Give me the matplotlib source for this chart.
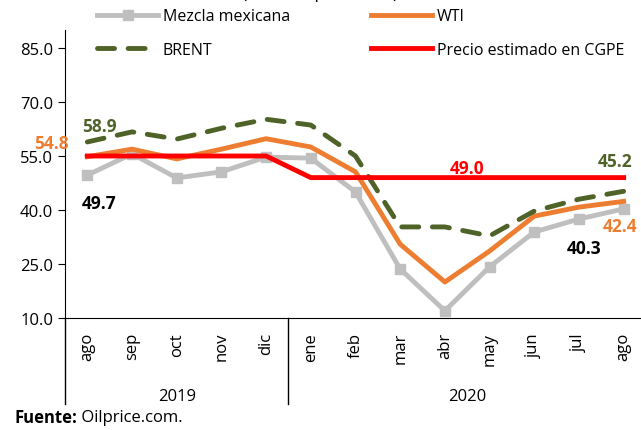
import matplotlib.pyplot as plt
import numpy as np

# monthly oil prices, dollars per barrel
months = ["ago", "sep", "oct", "nov", "dic", "ene", "feb", "mar", "abr", "may", "jun", "jul", "ago"]
years = ["2019", "2020"]
mezcla = [49.7, 55.6, 48.9, 50.6, 54.7, 54.4, 45.0, 23.6, 12.0, 24.2, 33.9, 37.5, 40.3]
wti = [54.8, 56.9, 54.2, 56.9, 59.8, 57.5, 50.6, 30.5, 20.0, 28.6, 38.3, 40.8, 42.4]
brent = [58.9, 61.7, 59.7, 62.7, 65.2, 63.6, 55.0, 35.3, 35.3, 32.8, 39.7, 43.0, 45.2]
cgpe = [55.0, 55.0, 55.0, 55.0, 55.0, 49.0, 49.0, 49.0, 49.0, 49.0, 49.0, 49.0, 49.0]

plt.rcParams['font.family'] = ['Open Sans', 'DejaVu Sans']
gray = '#BFBFBF'
orange = '#ED7D31'
olive = '#4F6228'
red = '#FF0000'

fig = plt.figure(figsize=(6.41, 4.31), dpi=100)
ax = fig.add_axes([65/641, (431-319)/431, 581/641, 288/431])
x = np.arange(len(months))

l1, = ax.plot(x, mezcla, color=gray, lw=3.5, marker='s', ms=7, label='Mezcla mexicana')
l2, = ax.plot(x, wti, color=orange, lw=3.5, label='WTI')
l3, = ax.plot(x, brent, color=olive, lw=3.5, ls=(0, (3.5, 2.8)), dash_capstyle='round', label='BRENT')
l4, = ax.plot(x, cgpe, color=red, lw=3.5, label='Precio estimado en CGPE')

ax.set_xlim(-0.5, len(months) - 0.5)
ax.set_ylim(10, 90)
ax.set_yticks([10, 25, 40, 55, 70, 85])
ax.set_yticklabels(['%.1f' % v for v in [10, 25, 40, 55, 70, 85]], fontsize=12)
ax.set_xticks(x)
ax.set_xticklabels(months, rotation=90, fontsize=12)
ax.tick_params(axis='x', length=0, pad=10)
ax.tick_params(axis='y', length=5, direction='out')
for s in ['top', 'right']:
    ax.spines[s].set_visible(False)

# labels on the points
def lab(i, v, txt, c, dx, dy):
    ax.annotate(txt, (i, v), xytext=(dx, dy), textcoords='offset pixels',
                ha='center', va='center', color=c, fontsize=12.5, fontweight='bold')

lab(0, brent[0], '%.1f' % brent[0], olive, 12, 16)
lab(0, wti[0], '%.1f' % wti[0], orange, -36, 14)
lab(0, mezcla[0], '%.1f' % mezcla[0], 'black', 12, -28)
lab(8, cgpe[8], '%.1f' % cgpe[8], red, 22, 10)
lab(12, brent[12], '%.1f' % brent[12], olive, -9, 30)
lab(12, wti[12], '%.1f' % wti[12], orange, -4, -25)
lab(12, mezcla[12], '%.1f' % mezcla[12], 'black', -40, -39)

# year group separators and labels
trans = ax.get_xaxis_transform()
for xs in [-0.5, 4.5]:
    ax.plot([xs, xs], [0, -86/288], transform=trans, color='black', lw=1, clip_on=False)
ax.text(2, -78/288, years[0], transform=trans, ha='center', va='center', fontsize=12)
ax.text(8.5, -78/288, years[1], transform=trans, ha='center', va='center', fontsize=12)

# legend filled row by row
leg = ax.legend([l1, l3, l2, l4], [l.get_label() for l in [l1, l3, l2, l4]],
                ncol=2, loc='upper left', bbox_to_anchor=(18/581, 1.125), frameon=False,
                fontsize=11.5, handlelength=3.8, columnspacing=5.1, labelspacing=1.1,
                handletextpad=0.3)

# title mostly cut off at the top, as in the source image
fig.text(0.5, 1 + 2/431, '(dólares por barril)', ha='center', va='baseline', fontsize=13)
src = fig.text(14/641, 1 - 418/431, 'Fuente:', fontweight='bold', fontsize=12, va='center')
ax.annotate(' Oilprice.com.', xy=(1, 0.5), xycoords=src, va='center', fontsize=12)

fig.savefig('out.png', dpi=100)
